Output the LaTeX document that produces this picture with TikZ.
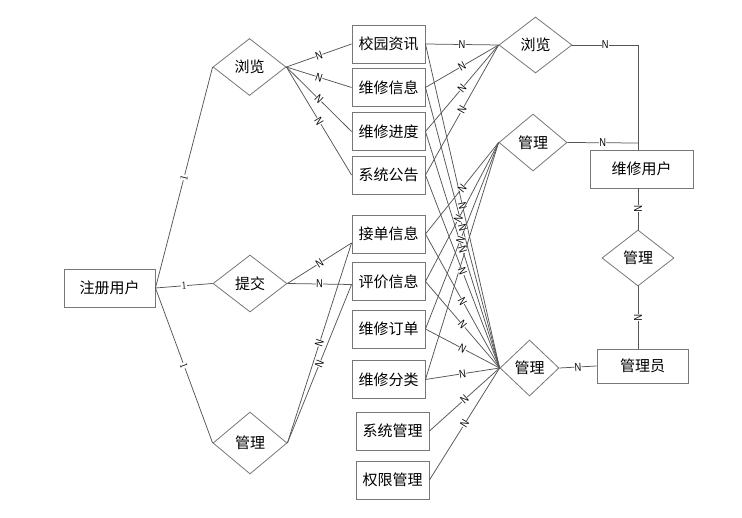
\documentclass[tikz,border=0pt]{standalone}
\usepackage{fontspec}
\newfontfamily\cjk{Noto Sans CJK SC}
\newfontfamily\labfont[FakeStretch=0.8]{Liberation Sans}
\usetikzlibrary{shapes.geometric,calc}
\definecolor{lnc}{HTML}{555555}
\definecolor{bdc}{HTML}{777777}
\begin{document}
\begin{tikzpicture}[x=1pt,y=-1pt,
  ent/.style={draw=bdc,line width=0.9pt,rectangle,minimum width=73pt,minimum height=38pt,inner sep=0pt,font=\cjk\fontsize{15}{18}\selectfont},
  rel/.style={draw=bdc,line width=0.8pt,diamond,inner sep=0pt,font=\cjk\fontsize{15}{18}\selectfont},
  conn/.style={draw=lnc,line width=0.75pt},
  lab/.style={font=\labfont\fontsize{11.5}{11.5}\selectfont,fill=white,inner sep=0.2pt,sloped,midway},
  labone/.style={font=\fontsize{11}{11}\selectfont,fill=white,inner sep=0.2pt,sloped,midway}]
\useasboundingbox (0,0) rectangle (742,518);

% entities
\node[ent,minimum width=91pt] (zc) at (109.5,288) {注册用户};
\node[ent] (b1) at (388.5,44) {校园资讯};
\node[ent] (b2) at (388.5,87.5) {维修信息};
\node[ent] (b3) at (388.5,131.5) {维修进度};
\node[ent] (b4) at (388.5,175) {系统公告};
\node[ent] (b5) at (388.5,234) {接单信息};
\node[ent] (b6) at (388.5,281.5) {评价信息};
\node[ent] (b7) at (388.5,329) {维修订单};
\node[ent] (b8) at (388.5,379.5) {维修分类};
\node[ent] (b9) at (392.5,431) {系统管理};
\node[ent] (b10) at (392.5,480) {权限管理};
\node[ent,minimum width=103pt] (wx) at (641.5,169) {维修用户};
\node[ent,minimum width=91pt,minimum height=34pt] (gly) at (642.5,366) {管理员};

% relations
\node[rel,minimum width=73pt,minimum height=57pt] (d1) at (249.5,67) {浏览};
\node[rel,minimum width=74pt,minimum height=57pt] (d2) at (250,283.5) {提交};
\node[rel,minimum width=74pt,minimum height=62pt] (d3) at (250,443) {管理};
\node[rel,minimum width=73pt,minimum height=56pt] (d4) at (535.5,45) {浏览};
\node[rel,minimum width=68pt,minimum height=57pt] (d5) at (533,142.5) {管理};
\node[rel,minimum width=72pt,minimum height=56pt] (d6) at (638,258) {管理};
\node[rel,minimum width=59pt,minimum height=56pt] (d7) at (529.5,368) {管理};

% helper coordinates
\coordinate (b5in) at ($(b5.west)+(0,9)$);
\coordinate (b6in) at ($(b6.west)+(0,3)$);
\coordinate (c1) at (638,45);
\coordinate (c2) at (638,143);
\coordinate (wxtop) at (638,150);
\coordinate (wxbot) at (638,188);
\coordinate (glytop) at (638,349);

% 注册用户
\draw[conn] (zc.east) -- node[labone]{1} (d1.west);
\draw[conn] (zc.east) -- node[labone]{1} (d2.west);
\draw[conn] (zc.east) -- node[labone]{1} (d3.west);

% left 浏览
\draw[conn] (d1.east) -- node[lab]{N} (b1.west);
\draw[conn] (d1.east) -- node[lab]{N} (b2.west);
\draw[conn] (d1.east) -- node[lab]{N} (b3.west);
\draw[conn] (d1.east) -- node[lab]{N} (b4.west);

% 提交
\draw[conn] (d2.east) -- node[lab]{N} (b5in);
\draw[conn] (d2.east) -- node[lab]{N} (b6in);

% left 管理
\draw[conn] (d3.east) -- node[lab]{N} (b5in);
\draw[conn] (d3.east) -- node[lab]{N} (b6in);

% right 浏览
\draw[conn] (b1.east) -- node[lab]{N} (d4.west);
\draw[conn] (b2.east) -- node[lab]{N} (d4.west);
\draw[conn] (b3.east) -- node[lab]{N} (d4.west);
\draw[conn] (b4.east) -- node[lab]{N} (d4.west);

% right top 管理
\draw[conn] (b8.east) -- (d5.west);

% bottom 管理
\draw[conn] (b1.east) -- node[lab]{N} (d7.west);
\draw[conn] (b2.east) -- node[lab]{N} (d7.west);
\draw[conn] (b3.east) -- node[lab]{N} (d7.west);
\draw[conn] (b4.east) -- node[lab]{N} (d7.west);
\draw[conn] (b5.east) -- node[lab]{N} (d7.west);
\draw[conn] (b6.east) -- node[lab]{N} (d7.west);
\draw[conn] (b7.east) -- node[lab]{N} (d7.west);
\draw[conn] (b8.east) -- node[lab]{N} (d7.west);
\draw[conn] (b9.east) -- node[lab]{N} (d7.west);
\draw[conn] (b10.east) -- node[lab]{N} (d7.west);

\draw[conn] (b5.east) -- node[lab]{N} (d5.west);
\draw[conn] (b6.east) -- node[lab,pos=0.45]{N} (d5.west);
\draw[conn] (b7.east) -- node[lab,pos=0.48]{N} (d5.west);

% right side
\draw[conn] (d4.east) -- node[lab]{N} (c1) -- (wxtop);
\draw[conn] (d5.east) -- node[lab]{N} (c2);
\draw[conn] (wxbot) -- node[lab]{N} (d6.north);
\draw[conn] (d6.south) -- node[lab]{N} (glytop);
\draw[conn] (d7.east) -- node[lab]{N} (gly.west);
\end{tikzpicture}
\end{document}
